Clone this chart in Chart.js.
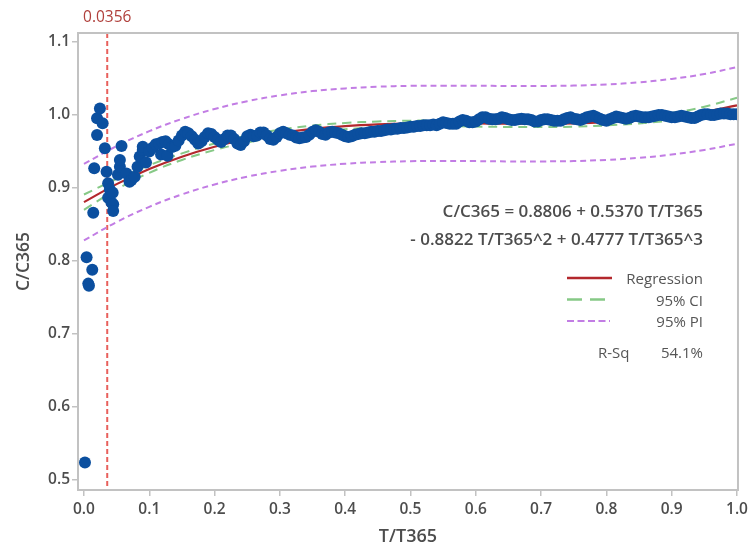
<!DOCTYPE html>
<html><head><meta charset="utf-8">
<script src="https://cdn.jsdelivr.net/npm/chart.js@4.4.1/dist/chart.umd.min.js"></script>
<style>html,body{margin:0;padding:0;background:#fff;}#wrap{width:752px;height:550px;}</style>
</head><body><div id="wrap"><canvas id="c" width="752" height="550"></canvas></div>
<script>
// ---- data ----
const earlyX = [0.0015,0.004,0.0066,0.0076,0.0127,0.0142,0.0157,0.020,0.020,0.0244,0.0285,0.032,0.0346,0.037,0.037,0.0396,0.042,0.044,0.0447,0.0447,0.052,0.055,0.055,0.0575,0.065,0.0697,0.0727,0.0777,0.082,0.0854,0.090,0.090,0.095,0.118,0.128];
const earlyY = [0.524,0.805,0.769,0.766,0.788,0.866,0.927,0.9726,0.9955,1.009,0.9886,0.9544,0.9223,0.9064,0.8866,0.898,0.880,0.8936,0.8776,0.8685,0.918,0.929,0.9384,0.9575,0.920,0.9086,0.911,0.9155,0.929,0.943,0.952,0.9566,0.935,0.946,0.944];
const bandX = [
0.100,0.105,0.110,0.115,0.120,0.125,0.130,0.135,0.140,0.145,
0.150,0.155,0.160,0.165,0.170,0.175,0.180,0.185,0.190,0.195,
0.200,0.205,0.210,0.215,0.220,0.225,0.230,0.235,0.240,0.245,
0.250,0.255,0.260,0.265,0.270,0.275,0.280,0.285,0.290,0.295,
0.300,0.305,0.310,0.315,0.320,0.325,0.330,0.335,0.340,0.345,
0.350,0.355,0.360,0.365,0.370,0.375,0.380,0.385,0.390,0.395,
0.400,0.405,0.410,0.415,0.420,0.425,0.430,0.435,0.440,0.445,
0.450,0.455,0.460,0.465,0.470,0.475,0.480,0.485,0.490,0.495,
0.500,0.505,0.510,0.515,0.520,0.525,0.530,0.535,0.540,0.545,
0.550,0.555,0.560,0.565,0.570,0.575,0.580,0.585,0.590,0.595,
0.600,0.605,0.610,0.615,0.620,0.625,0.630,0.635,0.640,0.645,
0.650,0.655,0.660,0.665,0.670,0.675,0.680,0.685,0.690,0.695,
0.700,0.705,0.710,0.715,0.720,0.725,0.730,0.735,0.740,0.745,
0.750,0.755,0.760,0.765,0.770,0.775,0.780,0.785,0.790,0.795,
0.800,0.805,0.810,0.815,0.820,0.825,0.830,0.835,0.840,0.845,
0.850,0.855,0.860,0.865,0.870,0.875,0.880,0.885,0.890,0.895,
0.900,0.905,0.910,0.915,0.920,0.925,0.930,0.935,0.940,0.945,
0.950,0.955,0.960,0.965,0.970,0.975,0.980,0.985,0.990,0.995,
1.000];
const bandY = [
0.950,0.955,0.960,0.961,0.963,0.964,0.960,0.956,0.958,0.965,
0.972,0.977,0.975,0.971,0.966,0.961,0.964,0.970,0.975,0.974,
0.970,0.966,0.963,0.967,0.972,0.972,0.967,0.961,0.959,0.964,
0.971,0.973,0.971,0.972,0.976,0.976,0.972,0.967,0.966,0.970,
0.975,0.977,0.975,0.973,0.972,0.969,0.968,0.969,0.970,0.973,
0.977,0.979,0.977,0.974,0.973,0.976,0.977,0.976,0.975,0.973,
0.971,0.970,0.971,0.973,0.974,0.975,0.975,0.976,0.977,0.977,
0.978,0.978,0.979,0.980,0.980,0.981,0.981,0.982,0.982,0.983,
0.984,0.984,0.985,0.985,0.986,0.986,0.986,0.987,0.986,0.988,
0.990,0.989,0.988,0.988,0.988,0.991,0.993,0.992,0.990,0.990,
0.991,0.994,0.997,0.997,0.995,0.994,0.994,0.995,0.997,0.996,
0.994,0.993,0.993,0.994,0.995,0.994,0.994,0.993,0.991,0.991,
0.993,0.994,0.994,0.993,0.992,0.992,0.992,0.994,0.996,0.997,
0.995,0.994,0.993,0.995,0.997,0.998,0.999,0.997,0.995,0.993,
0.992,0.994,0.996,0.998,0.997,0.996,0.995,0.996,0.998,0.999,
0.998,0.997,0.997,0.997,0.998,0.999,1.000,1.000,0.999,0.998,
0.997,0.997,0.998,0.999,0.998,0.997,0.996,0.996,0.998,1.000,
1.001,1.001,1.000,1.000,1.001,1.002,1.002,1.002,1.001,1.001,
1.001];
const curveX = [0,0.05,0.1,0.15,0.2,0.25,0.3,0.35,0.4,0.45,0.5,0.55,0.6,0.65,0.7,0.75,0.8,0.85,0.9,0.95,1.0];
const regY  = [0.8806,0.9053,0.9260,0.9429,0.9565,0.9672,0.9752,0.9810,0.9848,0.9871,0.9883,0.9886,0.9884,0.9881,0.9881,0.9886,0.9902,0.9930,0.9976,1.0041,1.0131];
const ciHiY = [0.8911,0.9125,0.9312,0.9474,0.9610,0.9719,0.9799,0.9855,0.9891,0.9911,0.9922,0.9926,0.9927,0.9926,0.9928,0.9933,0.9947,0.9975,1.0028,1.0113,1.0236];
const ciLoY = [0.8701,0.8981,0.9208,0.9384,0.9520,0.9625,0.9705,0.9765,0.9805,0.9831,0.9844,0.9846,0.9841,0.9836,0.9834,0.9839,0.9857,0.9885,0.9924,0.9969,1.0026];
const piHiY = [0.9331,0.9573,0.9778,0.9946,1.0082,1.0189,1.0269,1.0327,1.0364,1.0387,1.0399,1.0402,1.0400,1.0398,1.0398,1.0403,1.0419,1.0447,1.0494,1.0561,1.0656];
const piLoY = [0.8281,0.8533,0.8742,0.8912,0.9048,0.9155,0.9235,0.9293,0.9332,0.9355,0.9367,0.9370,0.9368,0.9364,0.9364,0.9369,0.9385,0.9413,0.9458,0.9521,0.9606];
const xTicks = [0,0.1,0.2,0.3,0.4,0.5,0.6,0.7,0.8,0.9,1.0];
const yTicks = [0.5,0.6,0.7,0.8,0.9,1.0,1.1];
const refX = 0.0356;
const refLabel = '0.0356';
const eqLines = ['C/C365 = 0.8806 + 0.5370 T/T365', '- 0.8822 T/T365^2 + 0.4777 T/T365^3'];
const legendLabels = ['Regression', '95% CI', '95% PI'];
const rsqName = 'R-Sq', rsqValue = '54.1%';
const xTitle = 'T/T365', yTitle = 'C/C365';

// ---- styles ----
const COL = {pts:'#0b4f9f', reg:'#b3282d', ci:'#86c986', pi:'#c27de4', ref:'#e8605c', refText:'#b0403c', frame:'#c2c2c2', text:'#4d4d4d'};
const FONT = "'Open Sans', 'DejaVu Sans', sans-serif";
Chart.defaults.font.family = FONT;

const zip = (xs, ys) => xs.map((v, i) => ({x: v, y: ys[i]}));
const lineDs = (ys, color, dash, w) => ({type:'line', data: zip(curveX, ys), borderColor: color, borderWidth: w, borderDash: dash, pointRadius: 0, fill: false, tension: 0.4});

const deco = {
  id: 'deco',
  beforeDatasetsDraw(chart) {
    const {ctx, chartArea: a, scales: {x}} = chart;
    const px = x.getPixelForValue(refX);
    ctx.save();
    ctx.strokeStyle = COL.ref; ctx.lineWidth = 2; ctx.setLineDash([5, 3]);
    ctx.beginPath(); ctx.moveTo(px, a.top); ctx.lineTo(px, a.bottom); ctx.stroke();
    ctx.restore();
  },
  afterDatasetsDraw(chart) {
    const {ctx, chartArea: a, scales: {x}} = chart;
    ctx.save();
    ctx.strokeStyle = COL.frame; ctx.lineWidth = 2;
    ctx.strokeRect(a.left, a.top, a.right - a.left, a.bottom - a.top);
    // ref label
    const px = x.getPixelForValue(refX);
    ctx.fillStyle = COL.refText; ctx.font = "15.5px " + FONT;
    ctx.textAlign = 'center'; ctx.textBaseline = 'middle';
    ctx.fillText(refLabel, px, 18);
    // equation
    ctx.fillStyle = COL.text; ctx.font = "600 17px " + FONT; ctx.textAlign = 'right';
    ctx.fillText(eqLines[0], 703, 212);
    ctx.fillText(eqLines[1], 703, 240);
    // legend
    ctx.font = "15px " + FONT; ctx.fillStyle = '#555';
    const ly = [280, 301.5, 323];
    legendLabels.forEach((t, i) => ctx.fillText(t, 703, ly[i]));
    ctx.lineWidth = 2.5;
    ctx.strokeStyle = COL.reg; ctx.setLineDash([]);
    ctx.beginPath(); ctx.moveTo(567, ly[0] - 2); ctx.lineTo(612, ly[0] - 2); ctx.stroke();
    ctx.strokeStyle = COL.ci; ctx.setLineDash([15, 8]);
    ctx.beginPath(); ctx.moveTo(567, ly[1] - 2); ctx.lineTo(610, ly[1] - 2); ctx.stroke();
    ctx.strokeStyle = COL.pi; ctx.lineWidth = 2; ctx.setLineDash([7, 3.5]);
    ctx.beginPath(); ctx.moveTo(567, ly[2] - 2); ctx.lineTo(610, ly[2] - 2); ctx.stroke();
    ctx.textAlign = 'left'; ctx.fillText(rsqName, 598, 354);
    ctx.textAlign = 'right'; ctx.fillText(rsqValue, 703, 354);
    ctx.restore();
  }
};

const tickFont = {family: FONT, size: 15.5, weight: '600'};
new Chart(document.getElementById('c'), {
  type: 'scatter',
  data: {datasets: [
    {data: zip(earlyX, earlyY).concat(zip(bandX, bandY)), backgroundColor: COL.pts, borderWidth: 0, pointRadius: 6, pointHoverRadius: 6},
    lineDs(regY, COL.reg, [], 2.2),
    lineDs(ciHiY, COL.ci, [9, 6], 2),
    lineDs(ciLoY, COL.ci, [9, 6], 2),
    lineDs(piHiY, COL.pi, [6, 4], 2),
    lineDs(piLoY, COL.pi, [6, 4], 2)
  ]},
  options: {
    responsive: false, animation: false,
    layout: {padding: {left: 0, right: 11, top: 33, bottom: 0}},
    plugins: {legend: {display: false}, tooltip: {enabled: false}},
    scales: {
      x: {type: 'linear', min: -0.00915, max: 1.0015,
        afterBuildTicks: s => { s.ticks = xTicks.map(v => ({value: v})); },
        afterFit: s => { s.height = 60; },
        ticks: {font: tickFont, color: COL.text, padding: 4, maxRotation: 0, autoSkip: false, callback: v => v.toFixed(1)},
        grid: {display: true, drawOnChartArea: false, drawTicks: true, tickLength: 6, color: COL.frame, lineWidth: 1.5},
        border: {display: false},
        title: {display: true, text: xTitle, color: COL.text, font: {family: FONT, size: 18, weight: '600'}, padding: {top: 0, bottom: 2}}
      },
      y: {type: 'linear', min: 0.4863, max: 1.1123,
        afterBuildTicks: s => { s.ticks = yTicks.map(v => ({value: v})); },
        afterFit: s => { s.width = 78; },
        ticks: {font: tickFont, color: COL.text, padding: 2, autoSkip: false, callback: v => v.toFixed(1)},
        grid: {display: true, drawOnChartArea: false, drawTicks: true, tickLength: 6, color: COL.frame, lineWidth: 1.5},
        border: {display: false},
        title: {display: true, text: yTitle, color: COL.text, font: {family: FONT, size: 17.5, weight: '600'}, padding: {top: 14, bottom: 0}}
      }
    }
  },
  plugins: [deco]
});
</script></body></html>
